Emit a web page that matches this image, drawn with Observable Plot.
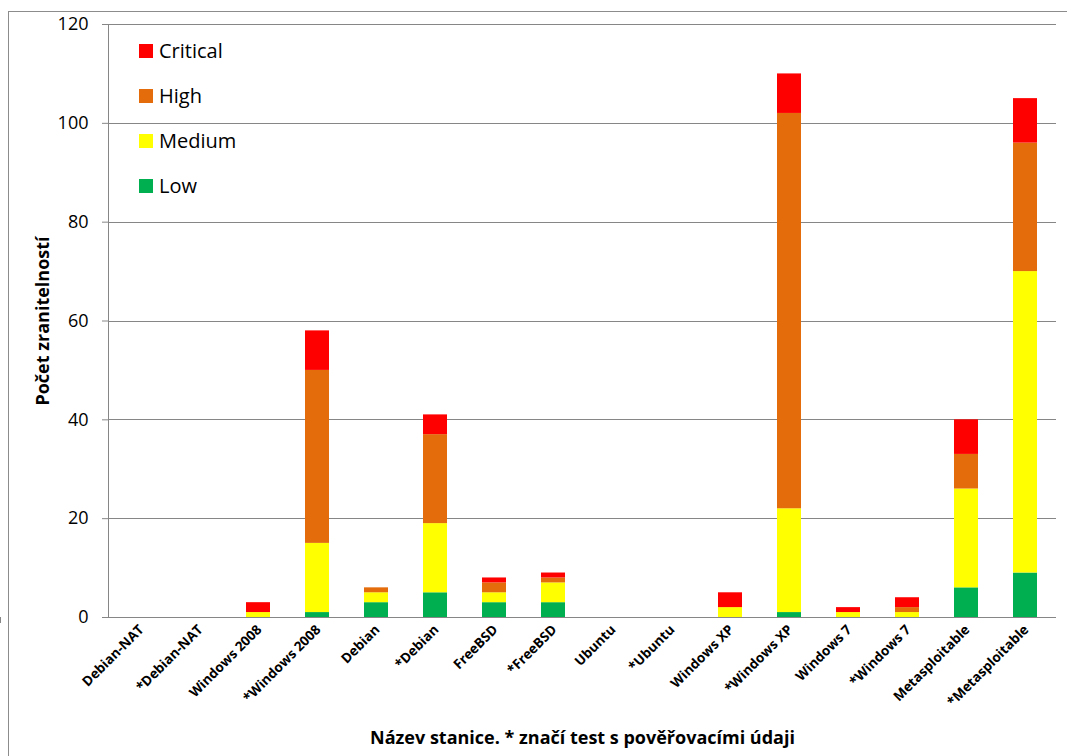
<!DOCTYPE html>
<html>
<head>
<meta charset="utf-8">
<script src="https://cdn.jsdelivr.net/npm/d3@7"></script>
<script src="https://cdn.jsdelivr.net/npm/@observablehq/plot@0.6"></script>
<style>
  html, body { margin: 0; padding: 0; background: #fff; }
  #wrap { position: relative; width: 1067px; height: 756px; overflow: hidden; font-family: "Open Sans", sans-serif; }
  #border { position: absolute; left: 8px; top: 11px; width: 1100px; height: 800px; border-top: 1px solid #8c8c8c; border-left: 1px solid #8c8c8c; box-sizing: border-box; }
  #legend { position: absolute; left: 139px; top: 28px; }
  .row { display: flex; align-items: center; height: 45px; font-size: 20px; color: #000; }
  .sw { width: 14px; height: 14px; margin-right: 6px; }
  svg { position: absolute; left: 0; top: 0; }
</style>
</head>
<body>
<div id="wrap"><div id="border"></div></div>
<script>
const stations = ["Debian-NAT", "*Debian-NAT", "Windows 2008", "*Windows 2008", "Debian", "*Debian", "FreeBSD", "*FreeBSD", "Ubuntu", "*Ubuntu", "Windows XP", "*Windows XP", "Windows 7", "*Windows 7", "Metasploitable", "*Metasploitable"];
const levels = ["Critical", "High", "Medium", "Low"];
const levelColors = ["#FF0000", "#E46C0A", "#FFFF00", "#00B050"];
const stackOrder = ["Low", "Medium", "High", "Critical"];
const low      = [0, 0, 0, 1, 3, 5, 3, 3, 0, 0, 0, 1, 0, 0, 6, 9];
const medium   = [0, 0, 1, 14, 2, 14, 2, 4, 0, 0, 2, 21, 1, 1, 20, 61];
const high     = [0, 0, 0, 35, 1, 18, 2, 1, 0, 0, 0, 80, 0, 1, 7, 26];
const critical = [0, 0, 2, 8, 0, 4, 1, 1, 0, 0, 3, 8, 1, 2, 7, 9];
const yTicks = [0, 20, 40, 60, 80, 100, 120];
const yTitle = "Počet zranitelností";
const xTitle = "Název stanice. * značí test s pověřovacími údaji";

const series = {Low: low, Medium: medium, High: high, Critical: critical};
const data = [];
for (const lv of stackOrder) stations.forEach((s, i) => data.push({station: s, level: lv, value: series[lv][i]}));

const grid = "#868686";

// Excel-style tick marks between categories, plus the y axis line
function axisLines(index, scales, values, dim) {
  const x = scales.x;
  const step = x(stations[1]) - x(stations[0]);
  const bw = x.bandwidth || 0;
  const g = d3.create("svg:g").attr("stroke", grid).attr("stroke-width", 1).attr("shape-rendering", "crispEdges");
  const y0 = dim.height - dim.marginBottom;
  const xs = stations.map(s => x(s) - (step - bw) / 2);
  xs.push(xs[xs.length - 1] + step);
  for (const px of xs) {
    g.append("line").attr("x1", px).attr("x2", px).attr("y1", y0).attr("y2", y0 + 6);
  }
  g.append("line").attr("x1", dim.marginLeft).attr("x2", dim.marginLeft)
    .attr("y1", dim.marginTop).attr("y2", y0);
  return g.node();
}

const chart = Plot.plot({
  width: 1067,
  height: 756,
  marginLeft: 108,
  marginRight: 11,
  marginTop: 24,
  marginBottom: 139,
  style: {fontFamily: "'Open Sans', sans-serif", background: "transparent", overflow: "visible"},
  x: {domain: stations, paddingInner: 0.6, paddingOuter: 0.3},
  y: {domain: [0, 120]},
  color: {domain: levels, range: levelColors},
  marks: [
    Plot.ruleY(yTicks, {stroke: grid, strokeWidth: 1, shapeRendering: "crispEdges"}),
    Plot.barY(data, {x: "station", y: "value", fill: "level", order: stackOrder}),
    Plot.axisY({ticks: yTicks, tickSize: 6, tickPadding: 14, fontSize: 18, stroke: grid, color: "#000",
      label: yTitle, labelAnchor: "center", labelArrow: "none", labelOffset: 72}),
    Plot.axisX({tickSize: 0, tickFormat: () => "",
      label: xTitle, labelAnchor: "center", labelArrow: "none", labelOffset: 126}),
    Plot.text(stations, {x: d => d, frameAnchor: "bottom", rotate: -45, textAnchor: "end",
      dy: 13, dx: 4, fontSize: 13.5, fontWeight: "bold", fill: "#000"}),
    axisLines
  ]
});
d3.select(chart).selectAll("g[aria-label='y-axis label'] text, g[aria-label='x-axis label'] text")
  .attr("font-size", 18).attr("font-weight", "bold").attr("fill", "#000");

const wrap = document.getElementById("wrap");
wrap.appendChild(chart);

const legend = document.createElement("div");
legend.id = "legend";
levels.forEach((lv, i) => {
  const row = document.createElement("div");
  row.className = "row";
  const sw = document.createElement("div");
  sw.className = "sw";
  sw.style.background = levelColors[i];
  const t = document.createElement("span");
  t.textContent = lv;
  row.appendChild(sw); row.appendChild(t);
  legend.appendChild(row);
});
wrap.appendChild(legend);
</script>
</body>
</html>
